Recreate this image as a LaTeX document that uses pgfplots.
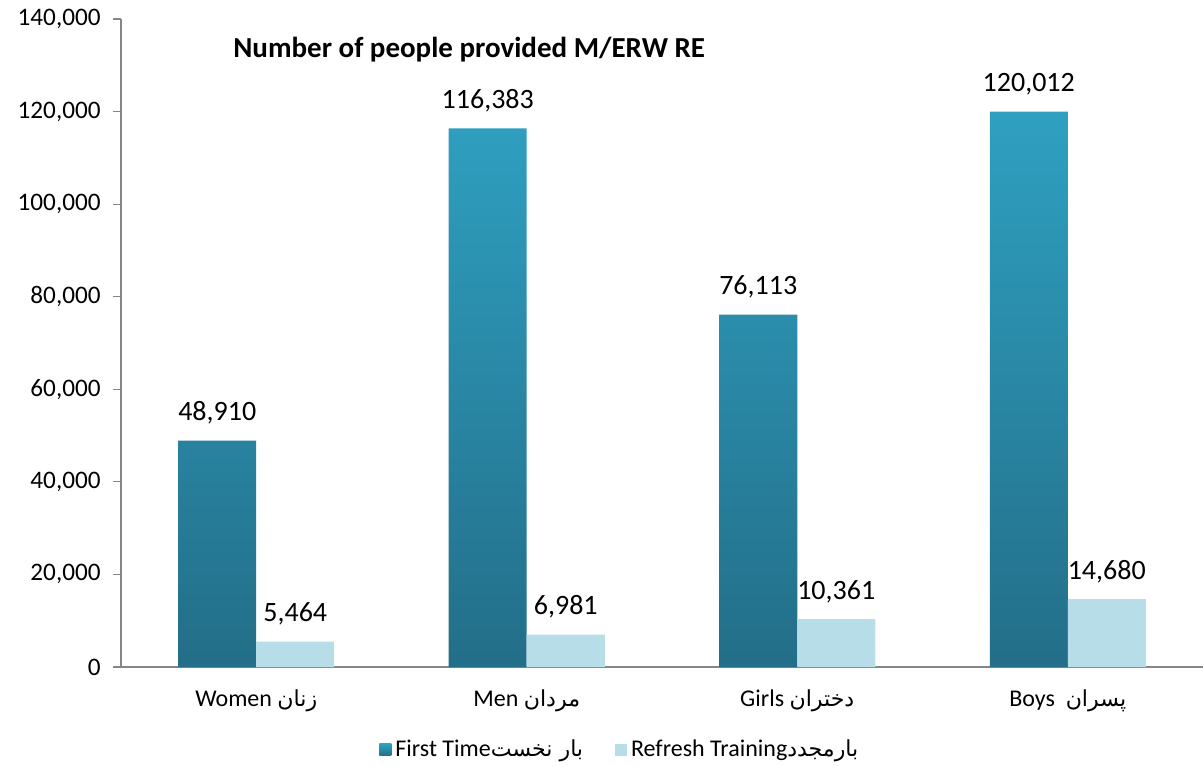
\documentclass[border=0pt]{standalone}
\usepackage{fontspec}
\setmainfont{Carlito}
\newfontfamily\arabicfont[Script=Arabic,Scale=0.92]{DejaVu Sans}
\TeXXeTstate=1
\usepackage{pgfplots}
\pgfplotsset{compat=1.18}
\definecolor{ftTop}{RGB}{47,160,193}
\definecolor{ftBot}{RGB}{35,110,136}
\definecolor{rtFill}{RGB}{183,221,232}
\definecolor{axgray}{RGB}{134,134,134}
\newcommand{\ar}[1]{{\arabicfont\beginR #1\endR}}
\begin{document}
\fontsize{12bp}{14bp}\selectfont
\begin{tikzpicture}
\useasboundingbox (-60.5bp,-50bp) rectangle (541bp,333.5bp);
\begin{axis}[
  at={(0,0)}, anchor=south west,
  scale only axis, width=541bp, height=324bp,
  xmin=-0.5, xmax=3.5, ymin=0, ymax=140000,
  ybar, bar width=39bp,
  axis x line*=bottom, axis y line*=left,
  x axis line style={draw=axgray, line width=1.1bp, -},
  y axis line style={draw=axgray, line width=0.6bp, -},
  xtick={0,1,2,3},
  xticklabels={Women \ar{زنان}, Men \ar{مردان}, Girls \ar{دختران}, Boys\ \ \ar{پسران}},
  x tick style={draw=none},
  x tick label style={yshift=-3bp},
  extra x ticks={-0.5,0.5,1.5,2.5},
  extra x tick labels={},
  extra x tick style={major tick length=4bp, tick style={draw=axgray, line width=0.8bp}, tick align=outside},
  ytick={0,20000,...,140000},
  y tick style={draw=axgray, line width=0.6bp},
  tick align=outside, major tick length=4bp,
  /pgf/number format/fixed,
  /pgf/number format/precision=0,
  /pgf/number format/1000 sep={,},
  /pgf/number format/assume math mode=true,
  yticklabel style={xshift=-2bp, font=\fontsize{12.6bp}{14bp}\selectfont},
  scaled y ticks=false,
  nodes near coords,
  every node near coord/.append style={font=\fontsize{14bp}{16bp}\selectfont, yshift=4bp},
  legend style={draw=none, at={(0.462,-0.128)}, anchor=center, legend columns=2,
    font=\fontsize{12bp}{14bp}\selectfont,
    /tikz/every even column/.append style={column sep=14bp}},
  legend image code/.code={\path[#1, draw=none] (0bp,-3bp) rectangle (6bp,3bp);},
  clip=false,
]
\addplot[bar shift=-19.5bp, draw=none, top color=ftTop, bottom color=ftBot, shading=axis] coordinates {(0,48910) (1,116383) (2,76113) (3,120012)};
\addlegendentry{First Time\ar{بار نخست}}
\addplot[bar shift=19.5bp, draw=none, fill=rtFill] coordinates {(0,5464) (1,6981) (2,10361) (3,14680)};
\addlegendentry{Refresh Training\ar{بارمجدد}}
\node[anchor=west, inner sep=0pt, font=\bfseries\fontsize{14.5bp}{16bp}\selectfont] at (rel axis cs:0.1035,0.952) {Number of people provided M/ERW RE};
\end{axis}
\end{tikzpicture}
\end{document}
